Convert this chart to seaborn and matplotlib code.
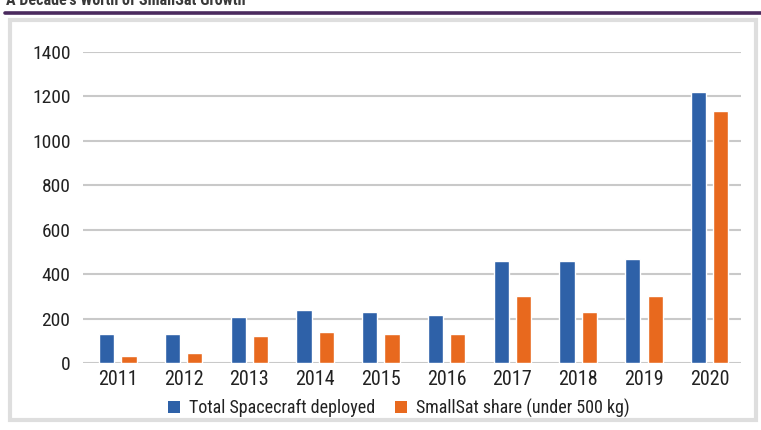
import matplotlib
matplotlib.use("Agg")
import matplotlib.pyplot as plt
from matplotlib.patches import Rectangle, Patch
from matplotlib.lines import Line2D
import pandas as pd
import seaborn as sns

# Spacecraft deployed per year, with the small-satellite portion
years = ["2011", "2012", "2013", "2014", "2015", "2016", "2017", "2018", "2019", "2020"]
total_deployed = [130, 130, 205, 240, 228, 215, 457, 457, 468, 1222]
smallsat_share = [32, 44, 120, 140, 130, 130, 303, 228, 303, 1135]
series_names = ["Total Spacecraft deployed", "SmallSat share (under 500 kg)"]
series_colors = ["#2E61A8", "#E8691E"]
title_text = "A Decade's Worth of SmallSat Growth"

df = pd.DataFrame({
    "year": years * 2,
    "count": total_deployed + smallsat_share,
    "series": [series_names[0]] * len(years) + [series_names[1]] * len(years),
})

sns.set_theme(style="white")
plt.rcParams["font.family"] = ["Roboto Condensed", "Liberation Sans Narrow",
                               "Liberation Sans", "DejaVu Sans"]

W, H = 761, 430
fig = plt.figure(figsize=(W / 100, H / 100), dpi=100)
fig.patch.set_facecolor("white")

def px_rect(x0, y0, x1, y1):
    # pixel box (top-left origin) -> figure fraction [left, bottom, width, height]
    return [x0 / W, 1 - y1 / H, (x1 - x0) / W, (y1 - y0) / H]

# heading, cut off at the top edge, and the rule beneath it
fig.text(6 / W, 1 - 5 / H, title_text, ha="left", va="baseline",
         fontsize=11.5, fontweight="bold", color="#3A3A3A")
fig.add_artist(Line2D([5 / W, 1.0], [1 - 13 / H, 1 - 13 / H],
                      transform=fig.transFigure, color="#4A2A5E", lw=2.6))

# light grey frame around the chart panel
fig.add_artist(Rectangle((10 / W, 1 - 420 / H), (756 - 10) / W, (420 - 20) / H,
                         transform=fig.transFigure, facecolor="white",
                         edgecolor="#DEDEDE", lw=3, zorder=0))

ax = fig.add_axes(px_rect(83, 52, 741, 363))
ax.set_facecolor("none")
sns.barplot(data=df, x="year", y="count", hue="series", palette=series_colors,
            width=0.68, gap=0.32, saturation=1, ax=ax, legend=False, zorder=3)

ax.set_ylim(0, 1400)
ax.set_xlim(-0.53, 9.476)
ax.set_yticks(range(0, 1401, 200))
ax.yaxis.grid(True, color="#C9C9C9", lw=1.5)
ax.set_axisbelow(True)
for s in ax.spines.values():
    s.set_visible(False)
ax.tick_params(axis="y", length=0, pad=9, labelsize=14, labelcolor="#222222")
ax.tick_params(axis="x", length=0, pad=5, labelsize=14.5, labelcolor="#222222")
ax.set_xlabel("")
ax.set_ylabel("")

handles = [Patch(facecolor=c, edgecolor="none") for c in series_colors]
fig.legend(handles, series_names, loc="center", ncol=2,
           bbox_to_anchor=(399 / W, 1 - 408 / H), frameon=False,
           fontsize=13, handlelength=0.65, handleheight=0.65,
           handletextpad=0.5, columnspacing=1.1, labelcolor="#222222")

fig.savefig("out.png", dpi=100, facecolor="white")
